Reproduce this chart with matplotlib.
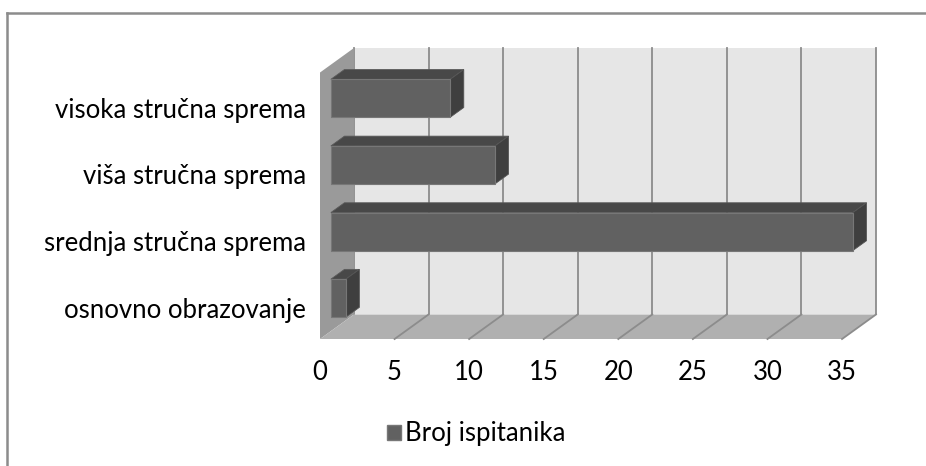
import matplotlib.pyplot as plt
import matplotlib.transforms as mtransforms
from matplotlib.patches import Polygon, Patch
from matplotlib.lines import Line2D

plt.rcParams['font.family'] = ['Lato', 'DejaVu Sans']

categories = ['osnovno obrazovanje', 'srednja stručna sprema',
              'viša stručna sprema', 'visoka stručna sprema']
values = [1, 35, 11, 8]
ticks = [0, 5, 10, 15, 20, 25, 30, 35]
series_name = 'Broj ispitanika'

# depth of the 3d box in data units (value, category)
DX, DY = 2.277, 0.368
T0, T1 = 0.32, 0.72      # bar front / back depth
B0, B1 = 0.21, 0.78      # bar bottom / top inside a category slot
vmax = ticks[-1]
ncat = len(categories)
FS = 18.5


def P(v, y, t):
    return (v + DX * t, y + DY * t)


def face(ax, pts, fc, ec='none', lw=0.0, z=1):
    ax.add_patch(Polygon(pts, closed=True, facecolor=fc, edgecolor=ec,
                         linewidth=lw, zorder=z, clip_on=False))


fig = plt.figure(figsize=(9.26, 4.66), dpi=100)
ax = fig.add_axes([320 / 926, (466 - 339) / 466, 556 / 926, 291 / 466])
ax.set_xlim(0, vmax + DX)
ax.set_ylim(0, ncat + DY)

# back wall
face(ax, [P(0, 0, 1), P(vmax, 0, 1), P(vmax, ncat, 1), P(0, ncat, 1)], '#e6e6e6')
for v in ticks:
    ax.plot(*zip(P(v, 0, 1), P(v, ncat, 1)), color='#8c8c8c', lw=1.3, zorder=2,
            clip_on=False)
# left wall
face(ax, [P(0, 0, 0), P(0, 0, 1), P(0, ncat, 1), P(0, ncat, 0)], '#9a9a9a', z=3)
# floor
face(ax, [P(0, 0, 0), P(vmax, 0, 0), P(vmax, 0, 1), P(0, 0, 1)], '#b0b0b0', z=3)
for v in ticks[1:]:
    ax.plot(*zip(P(v, 0, 0), P(v, 0, 1)), color='#8c8c8c', lw=1.3, zorder=4,
            clip_on=False)

# bars
for i, v in enumerate(values):
    b, t = i + B0, i + B1
    face(ax, [P(0, b, T0), P(v, b, T0), P(v, t, T0), P(0, t, T0)],
         '#616161', '#777777', 0.8, 6)
    face(ax, [P(0, t, T0), P(v, t, T0), P(v, t, T1), P(0, t, T1)],
         '#484848', '#5a5a5a', 0.6, 5)
    face(ax, [P(v, b, T0), P(v, b, T1), P(v, t, T1), P(v, t, T0)],
         '#3f3f3f', '#555555', 0.6, 5)

ax.set_xticks(ticks)
ax.set_xticklabels([str(v) for v in ticks])
ax.set_yticks([i + 0.5 for i in range(ncat)])
ax.set_yticklabels(categories)
ax.tick_params(axis='x', length=0, pad=15, labelsize=FS)
ax.tick_params(axis='y', length=0, pad=10, labelsize=FS)
shift = mtransforms.ScaledTranslation(0, -2 / 100, fig.dpi_scale_trans)
for lbl in ax.get_yticklabels():
    lbl.set_va('center_baseline')
    lbl.set_transform(lbl.get_transform() + shift)
for s in ax.spines.values():
    s.set_visible(False)
ax.patch.set_visible(False)

fig.legend(handles=[Patch(facecolor='#616161', edgecolor='#777777', label=series_name)],
           loc='center', bbox_to_anchor=(476 / 926, (466 - 434) / 466),
           frameon=False, fontsize=FS, handlelength=0.55, handleheight=0.55,
           handletextpad=0.15, borderpad=0, borderaxespad=0)

# outer chart border (only top and left visible)
fig.add_artist(Line2D([7 / 926, 1], [1 - 12.5 / 466] * 2, color='#8c8c8c', lw=1.8,
                      transform=fig.transFigure))
fig.add_artist(Line2D([7 / 926] * 2, [0, 1 - 12.5 / 466], color='#8c8c8c', lw=1.8,
                      transform=fig.transFigure))

fig.savefig('out.png', dpi=100, facecolor='white')
